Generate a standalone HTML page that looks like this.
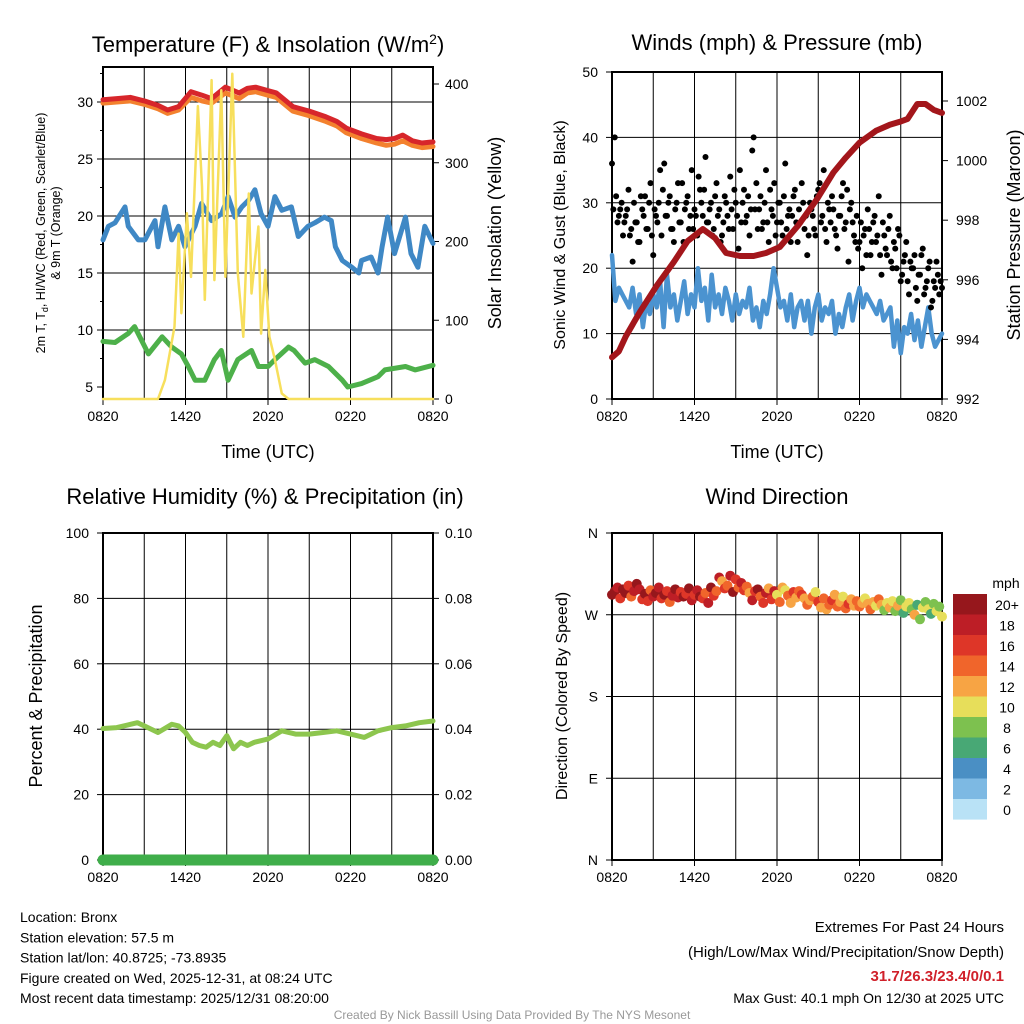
<!DOCTYPE html>
<html><head><meta charset="utf-8"><style>
body{margin:0;background:#fff}
svg{display:block;font-family:"Liberation Sans",sans-serif}
</style></head><body>
<svg id="c" width="1024" height="1024" viewBox="0 0 1024 1024">
<g id="g"></g>
</svg>
<script>
// ---- data (t in hours since 0820 UTC) ----
const xTickLabels=["0820","1420","2020","0220","0820"];
const tempT=[0,1,2,3,4,4.7,5.5,6.4,7.2,7.9,8.9,9.9,10.5,11.1,12,12.6,13.8,15,16.2,17,17.7,18.8,19.9,20.6,21.2,21.8,22.5,23.2,24];
const tempRed=[30.2,30.3,30.4,30.1,29.7,29.3,29.6,30.9,30.6,30.3,31.3,30.8,31.2,31.3,31,30.8,29.6,29.2,28.7,28.3,27.7,27.2,26.8,26.7,26.8,27.1,26.6,26.4,26.5];
const temp9m=[29.9,30,30.1,29.8,29.4,29,29.3,30.4,30.1,29.9,30.8,30.3,30.8,30.9,30.6,30.4,29.2,28.8,28.3,27.9,27.3,26.8,26.4,26.2,26.3,26.6,26.2,26,26.1];
const chillT=[0,0.39,0.87,1.6,1.84,2.57,3.05,3.78,4.0,4.5,5.0,5.5,5.96,6.69,7.17,7.9,8.63,9.1,9.6,10.1,10.6,11.05,11.5,12.0,12.5,13.0,13.7,14.2,14.9,15.4,16.1,16.6,16.9,17.4,18.1,18.6,18.8,19.5,20.0,20.3,20.7,21.2,22.0,22.4,22.9,23.4,24];
const chill=[17.9,19.1,19.4,20.8,19.1,17.9,17.9,19.6,17.3,20.8,17.9,19.1,17.3,19.1,21.1,19.6,20.2,21.7,19.9,20.8,21.4,22.3,20.2,19.1,21.7,20.5,20.8,18.2,19.1,19.4,19.9,19.6,17.3,16.1,15.5,15.0,16.1,16.4,15.0,17.3,19.9,16.7,19.9,16.7,15.5,19.1,17.6];
const dewT=[0,0.87,1.84,2.3,2.8,3.3,4.3,5.0,5.7,6.2,6.7,7.4,8.1,8.6,9.1,9.8,10.8,11.3,12.0,12.5,13.5,13.9,14.7,15.4,16.4,17.4,17.8,18.8,20.0,20.5,22.0,22.7,24];
const dewp=[9.0,8.9,9.7,10.3,9.1,7.9,9.4,8.5,7.9,6.8,5.6,5.6,7.4,8.2,5.6,7.4,8.2,6.8,6.8,7.4,8.5,8.2,7.1,7.4,6.8,5.6,5.0,5.3,5.9,6.5,6.8,6.5,6.9];
const solT=[0,4.0,4.5,5.2,5.5,5.7,6.1,6.4,6.9,7.2,7.4,7.9,8.1,8.6,8.9,9.4,9.8,10.2,10.6,10.8,11.3,11.5,11.8,12.1,12.5,13.0,13.5,24];
const solar=[0,0,24,92,210,109,236,155,372,270,126,405,151,392,155,413,160,79,261,134,219,83,164,79,50,7,0,0];
const windT=[0,0.25,0.5,0.75,1,1.25,1.5,1.75,2,2.25,2.5,2.75,3,3.25,3.5,3.75,4,4.25,4.5,4.75,5,5.25,5.5,5.75,6,6.25,6.5,6.75,7,7.25,7.5,7.75,8,8.25,8.5,8.75,9,9.25,9.5,9.75,10,10.25,10.5,10.75,11,11.25,11.5,11.75,12,12.25,12.5,12.75,13,13.25,13.5,13.75,14,14.25,14.5,14.75,15,15.25,15.5,15.75,16,16.25,16.5,16.75,17,17.25,17.5,17.75,18,18.25,18.5,18.75,19,19.25,19.5,19.75,20,20.25,20.5,20.75,21,21.25,21.5,21.75,22,22.25,22.5,22.75,23,23.25,23.5,23.75,24];
const windSpd=[22,15,17,16,15,14,17,13,16,11,15,13,16,14,18,11,19,14,16,12,15,18,13,16,14,20,15,17,12,19,14,16,13,17,15,12,16,13,15,14,17,12,14,11,15,13,16,20,17,14,15,12,16,11,14,15,12,15,10,14,16,12,14,13,15,10,13,11,14,16,12,15,17,14,16,15,14,13,15,12,13,14,8,12,7,11,10,13,9,12,8,11,14,10,8,9,10];
const gustT=[0,0.2,0.4,0.6,0.8,1,1.2,1.4,1.6,1.8,2,2.2,2.4,2.6,2.8,3,3.2,3.4,3.6,3.8,4,4.2,4.4,4.6,4.8,5,5.2,5.4,5.6,5.8,6,6.2,6.4,6.6,6.8,7,7.2,7.4,7.6,7.8,8,8.2,8.4,8.6,8.8,9,9.2,9.4,9.6,9.8,10,10.2,10.4,10.6,10.8,11,11.2,11.4,11.6,11.8,12,12.2,12.4,12.6,12.8,13,13.2,13.4,13.6,13.8,14,14.2,14.4,14.6,14.8,15,15.2,15.4,15.6,15.8,16,16.2,16.4,16.6,16.8,17,17.2,17.4,17.6,17.8,18,18.2,18.4,18.6,18.8,19,19.2,19.4,19.6,19.8,20,20.2,20.4,20.6,20.8,21,21.2,21.4,21.6,21.8,22,22.2,22.4,22.6,22.8,23,23.2,23.4,23.6,23.8,24];
const gust=[36,40,27,29,25,28,32,26,30,27,24,29,31,26,33,22,28,30,25,36,28,31,26,29,33,27,24,30,26,35,29,25,32,28,37,27,30,26,33,29,25,31,28,34,26,30,23,27,32,28,25,38,29,26,31,27,35,24,29,33,27,30,25,36,28,24,31,27,29,33,26,22,30,28,25,32,27,35,24,29,31,26,23,28,33,27,21,30,25,28,24,20,26,29,22,27,24,31,19,25,22,28,20,23,26,18,21,24,16,20,22,15,19,23,17,20,14,18,21,16,17];
const gust2T=[0.1,0.3,0.5,0.7,0.9,1.1,1.3,1.5,1.7,1.9,2.1,2.3,2.5,2.7,2.9,3.1,3.3,3.5,3.7,3.9,4.1,4.3,4.5,4.7,4.9,5.1,5.3,5.5,5.7,5.9,6.1,6.3,6.5,6.7,6.9,7.1,7.3,7.5,7.7,7.9,8.1,8.3,8.5,8.7,8.9,9.1,9.3,9.5,9.7,9.9,10.1,10.3,10.5,10.7,10.9,11.1,11.3,11.5,11.7,11.9,12.1,12.3,12.5,12.7,12.9,13.1,13.3,13.5,13.7,13.9,14.1,14.3,14.5,14.7,14.9,15.1,15.3,15.5,15.7,15.9,16.1,16.3,16.5,16.7,16.9,17.1,17.3,17.5,17.7,17.9,18.1,18.3,18.5,18.7,18.9,19.1,19.3,19.5,19.7,19.9,20.1,20.3,20.5,20.7,20.9,21.1,21.3,21.5,21.7,21.9,22.1,22.3,22.5,22.7,22.9,23.1,23.3,23.5,23.7,23.9];
const gust2=[29,31,28,30,27,29,25,21,27,24,31,28,26,30,25,29,27,35,32,28,30,26,24,30,27,33,29,31,28,26,28,34,30,32,27,29,25,31,28,24,27,30,26,29,32,28,35,30,27,31,29,40,33,29,26,30,27,32,28,25,30,27,31,26,29,28,32,24,27,30,28,25,29,26,31,33,28,26,30,27,29,25,28,31,26,32,29,27,24,23,27,25,22,26,24,28,25,22,27,23,26,21,24,20,25,19,22,18,21,20,17,19,22,16,18,21,15,17,19,18];
const presT=[0,0.5,1,2,3.25,4.5,5.5,6.6,7.5,8.3,9.3,10.3,11.2,12.2,13.5,14.9,16.1,17,18,19.2,20.2,20.9,21.5,22.2,22.8,23.4,24];
const pres=[993.4,993.6,994.1,994.9,995.8,996.6,997.3,997.7,997.4,996.9,996.8,996.8,996.9,997.1,997.8,998.7,999.6,1000.1,1000.6,1001.0,1001.2,1001.3,1001.4,1001.9,1001.9,1001.7,1001.6];
const rhT=[0,1,2,2.5,3,4,5,5.5,6,6.5,7,7.5,8,8.5,9,9.5,10,10.5,11,12,13,14,15,16,17,18,19,20,21,22,23,24];
const rh=[40.2,40.5,41.5,42,41,39,41.5,41,39,36,35,34.5,36,35,38,34,36,35,36,37,39.5,38.5,38.5,39,39.5,38.5,37.5,39.5,40.5,41,42,42.5];
const dirT=[0,0.2,0.4,0.6,0.8,1,1.2,1.4,1.6,1.8,2,2.2,2.4,2.6,2.8,3,3.2,3.4,3.6,3.8,4,4.2,4.4,4.6,4.8,5,5.2,5.4,5.6,5.8,6,6.2,6.4,6.6,6.8,7,7.2,7.4,7.6,7.8,8,8.2,8.4,8.6,8.8,9,9.2,9.4,9.6,9.8,10,10.2,10.4,10.6,10.8,11,11.2,11.4,11.6,11.8,12,12.2,12.4,12.6,12.8,13,13.2,13.4,13.6,13.8,14,14.2,14.4,14.6,14.8,15,15.2,15.4,15.6,15.8,16,16.2,16.4,16.6,16.8,17,17.2,17.4,17.6,17.8,18,18.2,18.4,18.6,18.8,19,19.2,19.4,19.6,19.8,20,20.2,20.4,20.6,20.8,21,21.2,21.4,21.6,21.8,22,22.2,22.4,22.6,22.8,23,23.2,23.4,23.6,23.8,24];
const dir=[292,296,300,288,298,294,302,290,296,304,298,287,293,285,297,290,294,300,288,292,296,284,291,298,289,295,290,293,299,286,292,297,290,288,294,283,300,291,296,311,307,299,302,313,295,309,300,305,297,301,294,286,296,298,290,283,294,299,287,296,292,284,300,297,291,283,295,289,296,292,288,281,286,290,295,284,278,288,276,281,286,292,279,284,290,277,282,287,280,285,279,283,288,282,276,284,280,287,281,275,283,278,285,274,280,286,272,279,283,276,270,281,265,278,284,276,271,282,274,279,268];
const dirSpd=[20,22,18,16,20,21,17,15,19,20,18,16,21,17,14,19,22,18,16,20,17,15,19,21,18,16,20,17,22,18,16,19,21,17,15,18,20,16,14,19,13,17,15,18,20,16,14,19,17,15,12,18,16,20,14,17,19,13,16,18,11,14,12,10,15,13,16,12,14,17,13,15,12,14,11,16,13,15,12,14,17,13,15,12,11,14,16,13,12,15,14,13,11,12,15,13,10,14,12,9,11,13,10,8,12,9,7,11,10,8,12,6,9,11,8,10,7,9,11,8,10];
const cbLabels=["20+","18","16","14","12","10","8","6","4","2","0"];
const cbColors=["#96171c","#bd1e26","#de3628","#f0652b","#f7a444","#e7de5a","#7dc14f","#48a875","#4a8fc4","#7db9e3","#b9e2f6"];

const NS="http://www.w3.org/2000/svg", G=document.getElementById('g');
function el(tag,a,parent){const e=document.createElementNS(NS,tag);for(const k in a)e.setAttribute(k,a[k]);(parent||G).appendChild(e);return e;}
function txt(x,y,s,size,anchor,extra){const e=el('text',Object.assign({x:x,y:y,'font-size':size,'text-anchor':anchor||'middle',fill:'#000'},extra||{}));e.textContent=s;return e;}
function lin(d0,d1,p0,p1){return v=>p0+(v-d0)/(d1-d0)*(p1-p0);}
function poly(ts,vs,sx,sy,color,w,name){
  const pts=ts.map((t,i)=>sx(t).toFixed(1)+','+sy(vs[i]).toFixed(1)).join(' ');
  const p=el('polyline',{points:pts,fill:'none',stroke:color,'stroke-width':w,'stroke-linejoin':'round','stroke-linecap':'round'});
  
  
  return p;
}
function frame(x0,y0,x1,y1,name){
  for(let i=1;i<8;i++){const x=x0+i*(x1-x0)/8;el('line',{x1:x,y1:y0,x2:x,y2:y1,stroke:'#000','stroke-width':1});}
  const r=el('rect',{x:x0,y:y0,width:x1-x0,height:y1-y0,fill:'none',stroke:'#000','stroke-width':2});
  
  
  xTickLabels.forEach((s,i)=>{const x=x0+i*(x1-x0)/4;el('line',{x1:x,y1:y1,x2:x,y2:y1+6,stroke:'#000'});
    const t=txt(x,y1+22,s,14);});
}
function hgrid(x0,x1,y){el('line',{x1:x0,y1:y,x2:x1,y2:y,stroke:'#000','stroke-width':1});}

// ===== Panel 1 =====
{const X0=103,X1=433,Y0=67,Y1=399;const sx=lin(0,24,X0,X1),sy=lin(5,30,387,102),sr=lin(0,400,399,84);
 [10,15,20,25,30].forEach(v=>hgrid(X0,X1,sy(v)));
 frame(X0,Y0,X1,Y1,'temperature-plot-area');
 [5,10,15,20,25,30].forEach(v=>{el('line',{x1:X0-6,y1:sy(v),x2:X0,y2:sy(v),stroke:'#000'});txt(X0-10,sy(v)+5,String(v),14,'end');});
 [7.5,12.5,17.5,22.5,27.5,32.5].forEach(v=>el('line',{x1:X0-3,y1:sy(v),x2:X0,y2:sy(v),stroke:'#000'}));
 [0,100,200,300,400].forEach(v=>{el('line',{x1:X1,y1:sr(v),x2:X1+6,y2:sr(v),stroke:'#000'});txt(X1+12,sr(v)+5,String(v),14,'start');});
 poly(dewT,dewp,sx,sy,'#4db04a',5,'dewpoint-line');
 poly(chillT,chill,sx,sy,'#3f88c5',5,'wind-chill-line');
 poly(tempT,temp9m,sx,sy,'#f3812e',5,'temp-9m-line');
 poly(tempT,tempRed,sx,sy,'#d7262b',5,'temp-2m-line');
 poly(solT,solar,sx,sr,'#f7df5c',2.5,'solar-insolation-line');
 const t=txt(268,52,'',22);t.innerHTML='Temperature (F) &amp; Insolation (W/m<tspan dy="-8" font-size="14">2</tspan><tspan dy="8">)</tspan>';
 
 txt(268,458,'Time (UTC)',18);
 const a=el('text',{transform:'translate(45,233) rotate(-90)','font-size':12.5,'text-anchor':'middle'});a.innerHTML='2m T, T<tspan dy="3" font-size="9">d</tspan><tspan dy="-3">, HI/WC (Red, Green, Scarlet/Blue)</tspan>';
 txt(0,0,'& 9m T (Orange)',12.5,'middle',{transform:'translate(60,233) rotate(-90)'});
 txt(0,0,'Solar Insolation (Yellow)',18,'middle',{transform:'translate(501,233) rotate(-90)'});
}
// ===== Panel 2 =====
{const X0=612,X1=942,Y0=72,Y1=399;const sx=lin(0,24,X0,X1),sy=lin(0,50,399,72),sp=lin(992,1002,399,101);
 [10,20,30,40].forEach(v=>hgrid(X0,X1,sy(v)));
 frame(X0,Y0,X1,Y1,'winds-plot-area');
 [0,10,20,30,40,50].forEach(v=>{el('line',{x1:X0-6,y1:sy(v),x2:X0,y2:sy(v),stroke:'#000'});txt(X0-14,sy(v)+5,String(v),14,'end');});
 [992,994,996,998,1000,1002].forEach(v=>{el('line',{x1:X1,y1:sp(v),x2:X1+6,y2:sp(v),stroke:'#000'});txt(X1+14,sp(v)+5,String(v),14,'start');});
 poly(windT,windSpd,sx,sy,'#4b93d0',4.5,'wind-speed-line');
 gust.forEach((v,i)=>{const c=el('circle',{cx:sx(gustT[i]),cy:sy(v),r:3,fill:'#000'});});
 gust2.forEach((v,i)=>{const c=el('circle',{cx:sx(gust2T[i]),cy:sy(v),r:3,fill:'#000'});});
 poly(presT,pres,sx,sp,'#a3161b',6,'pressure-line');
 txt(777,50,'Winds (mph) & Pressure (mb)',22);
 txt(777,458,'Time (UTC)',18);
 txt(0,0,'Sonic Wind & Gust (Blue, Black)',16,'middle',{transform:'translate(565,235) rotate(-90)'});
 txt(0,0,'Station Pressure (Maroon)',18,'middle',{transform:'translate(1020,235) rotate(-90)'});
}
// ===== Panel 3 =====
{const X0=103,X1=433,Y0=533,Y1=860;const sx=lin(0,24,X0,X1),sy=lin(0,100,860,533);
 [20,40,60,80].forEach(v=>hgrid(X0,X1,sy(v)));
 frame(X0,Y0,X1,Y1,'humidity-plot-area');
 [0,20,40,60,80,100].forEach(v=>{el('line',{x1:X0-6,y1:sy(v),x2:X0,y2:sy(v),stroke:'#000'});txt(X0-14,sy(v)+5,String(v),14,'end');
   el('line',{x1:X1,y1:sy(v),x2:X1+6,y2:sy(v),stroke:'#000'});txt(X1+12,sy(v)+5,(v/1000).toFixed(2),14,'start');});
 poly(rhT,rh,sx,sy,'#8dc64e',5,'humidity-line');
 poly([0,24],[0,0],sx,sy,'#3fae4a',11,'precipitation-line');
 txt(265,504,'Relative Humidity (%) & Precipitation (in)',22);
 txt(0,0,'Percent & Precipitation',18,'middle',{transform:'translate(42,696) rotate(-90)'});
}
// ===== Panel 4 =====
{const X0=612,X1=942,Y0=533,Y1=860;const sx=lin(0,24,X0,X1),sy=lin(0,360,860,533);
 [90,180,270].forEach(v=>hgrid(X0,X1,sy(v)));
 frame(X0,Y0,X1,Y1,'wind-direction-plot-area');
 ['N','E','S','W','N'].forEach((s,i)=>{const v=i*90;el('line',{x1:X0-6,y1:sy(v),x2:X0,y2:sy(v),stroke:'#000'});txt(X0-14,sy(v)+5,s,14,'end');});
 dir.forEach((d,i)=>{const s=dirSpd[i];const k=Math.max(0,Math.min(10,10-Math.floor(s/2)));
   const c=el('circle',{cx:sx(dirT[i]),cy:sy(d),r:5,fill:cbColors[k]});});
 txt(777,504,'Wind Direction',22);
 txt(0,0,'Direction (Colored By Speed)',16,'middle',{transform:'translate(567,696) rotate(-90)'});
 txt(1006,588,'mph',14);
 cbColors.forEach((c,i)=>{const r=el('rect',{x:953,y:594+i*20.5,width:34,height:20.6,fill:c});
   txt(1007,610+i*20.5,cbLabels[i],14);});
}
// ===== Footer =====
['Location: Bronx','Station elevation: 57.5 m','Station lat/lon: 40.8725; -73.8935','Figure created on Wed, 2025-12-31, at 08:24 UTC','Most recent data timestamp: 2025/12/31 08:20:00'].forEach((s,i)=>txt(20,922+i*20.3,s,14,'start'));
txt(1004,932,'Extremes For Past 24 Hours',15,'end');
txt(1004,957,'(High/Low/Max Wind/Precipitation/Snow Depth)',15,'end');
txt(1004,981,'31.7/26.3/23.4/0/0.1',15,'end',{fill:'#d0202a','font-weight':'bold'});
txt(1004,1003,'Max Gust: 40.1 mph On 12/30 at 2025 UTC',14,'end');
txt(512,1019,'Created By Nick Bassill Using Data Provided By The NYS Mesonet',12,'middle',{fill:'#999'});
</script>
</body></html>
